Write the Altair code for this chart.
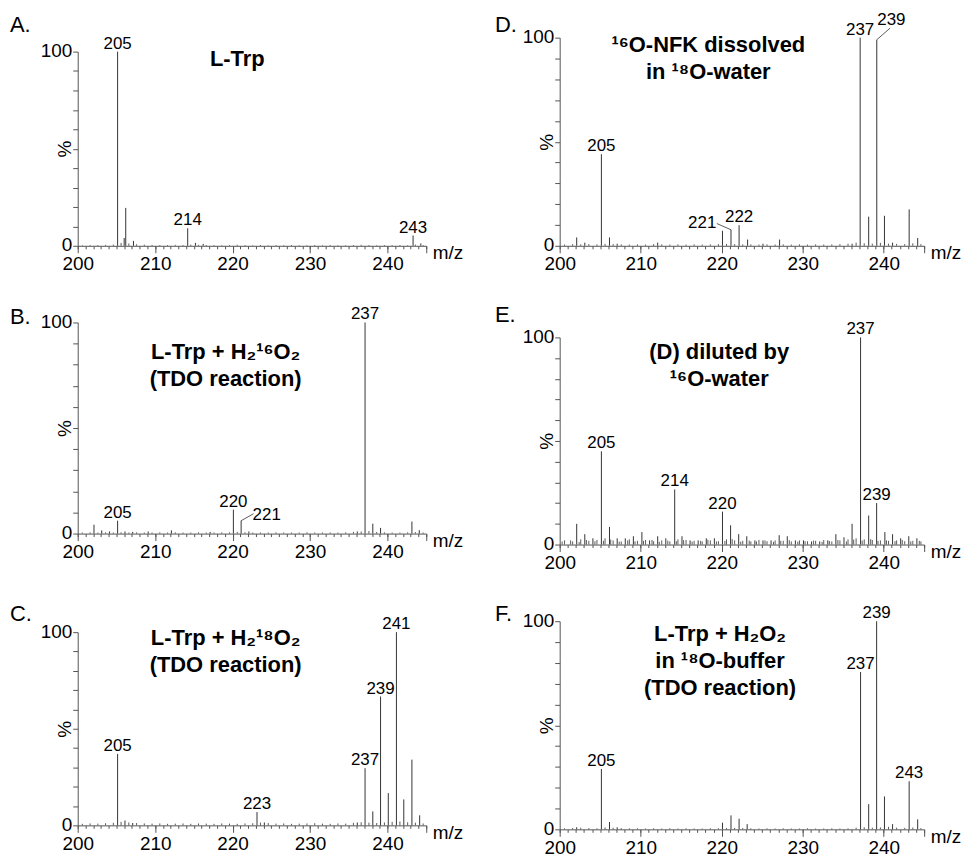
import altair as alt
import pandas as pd

FONT = "Liberation Sans"
LINE = "#333333"
AXC = "#555555"

X_MAJOR = [200, 210, 220, 230, 240, 245]
X_MINOR = [200, 201, 202, 203, 204, 205, 206, 207, 208, 209, 210, 211, 212, 213, 214,
           215, 216, 217, 218, 219, 220, 221, 222, 223, 224, 225, 226, 227, 228, 229,
           230, 231, 232, 233, 234, 235, 236, 237, 238, 239, 240, 241, 242, 243, 244, 245]
Y_TICKS = [0, 10, 20, 30, 40, 50, 60, 70, 80, 90, 100]

NOISE_MZ = [200.6, 201.6, 202.6, 203.6, 204.6, 205.6, 206.6, 207.6, 208.6, 209.6,
            210.6, 211.6, 212.6, 213.6, 214.6, 215.6, 216.6, 217.6, 218.6, 219.6,
            220.6, 221.6, 222.6, 223.6, 224.6, 225.6, 226.6, 227.6, 228.6, 229.6,
            230.6, 231.6, 232.6, 233.6, 234.6, 235.6, 236.6, 237.6, 238.6, 239.6,
            240.6, 241.6, 242.6, 243.6, 244.6]
NOISE_MZ2 = [200.3, 201.35, 202.4, 203.3, 204.35, 205.4, 206.3, 207.35, 208.4, 209.3,
             210.35, 211.4, 212.3, 213.35, 214.4, 215.3, 216.35, 217.4, 218.3, 219.35,
             220.4, 221.3, 222.35, 223.4, 224.3, 225.35, 226.4, 227.3, 228.35, 229.4,
             230.3, 231.35, 232.4, 233.3, 234.35, 235.4, 236.3, 237.35, 238.4, 239.3,
             240.35, 241.4, 242.3, 243.35, 244.4]

# ---------------- Panel A: L-Trp ----------------
A_mz = [205.15, 206.0, 206.2, 207.2, 214.2, 215.2, 216.2, 243.3, 244.3]
A_int = [100, 4, 19.5, 2.5, 9, 1.5, 1, 5.3, 1.2]
A_noise = [0.3, 0.4, 0.4, 0.5, 0.6, 1.5, 1.2, 0.8, 0.6, 0.5,
           0.4, 0.4, 0.5, 0.4, 0.6, 0.5, 0.4, 0.4, 0.3, 0.4,
           0.5, 0.4, 0.3, 0.4, 0.3, 0.4, 0.3, 0.4, 0.3, 0.3,
           0.4, 0.3, 0.4, 0.3, 0.3, 0.4, 0.5, 0.4, 0.3, 0.4,
           0.3, 0.4, 0.3, 0.6, 0.4]
A_lab = ["205", "214", "243"]
A_lab_x = [205.15, 214.2, 243.3]
A_lab_y = [100, 9, 5.3]

# ---------------- Panel B ----------------
B_mz = [202.1, 203.1, 204.1, 205.15, 206.1, 207.1, 209.1, 212.1, 217.1, 220.1, 221.1,
        222.1, 236.1, 237.1, 238.1, 239.1, 243.15, 244.1]
B_int = [4.2, 1.5, 1, 6.1, 1, 0.8, 1, 1.5, 0.8, 11.3, 6.1, 1, 1, 100, 4.7, 2.7, 5.7, 1.6]
B_noise = [0.5, 0.6, 0.5, 0.6, 0.5, 0.6, 0.5, 0.6, 0.5, 0.5,
           0.6, 0.5, 0.6, 0.5, 0.5, 0.6, 0.5, 0.5, 0.6, 0.6,
           0.8, 0.6, 0.5, 0.5, 0.5, 0.6, 0.5, 0.5, 0.5, 0.6,
           0.5, 0.5, 0.5, 0.5, 0.6, 0.8, 1.0, 1.2, 0.8, 0.6,
           0.5, 0.5, 0.6, 0.7, 0.5]
B_lab = ["205", "220", "221", "237"]
B_lab_x = [205.15, 220.1, 224.4, 237.1]
B_lab_y = [6.1, 11.3, 5.1, 100]
B_lead = [[221.1, 6.1, 222.7, 9.4]]

# ---------------- Panel C ----------------
C_mz = [205.15, 206.1, 207.1, 223.15, 224.1, 236.1, 237.1, 238.1, 239.1, 240.1, 241.15,
        242.1, 243.15, 244.15]
C_int = [37, 2.5, 1.2, 6.9, 1.5, 1.5, 29.6, 7.2, 66.7, 16.7, 100, 13.4, 34, 5.2]
C_noise = [0.8, 1.0, 0.9, 1.1, 1.3, 1.8, 1.5, 1.2, 1.0, 0.9,
           1.0, 0.8, 0.9, 1.0, 0.8, 1.0, 0.9, 0.8, 1.0, 0.9,
           0.8, 1.0, 1.1, 1.4, 1.2, 0.9, 1.0, 0.8, 0.9, 1.0,
           1.1, 0.9, 0.8, 1.0, 0.9, 1.3, 1.6, 1.4, 1.2, 1.5,
           1.8, 2.0, 1.6, 1.4, 1.0]
C_lab = ["205", "223", "237", "239", "241"]
C_lab_x = [205.15, 223.15, 237.1, 239.1, 241.15]
C_lab_y = [37, 6.9, 29.6, 66.7, 100]

# ---------------- Panel D ----------------
D_mz = [202.1, 203.1, 205.15, 206.15, 207.1, 212.1, 220.1, 221.15, 222.15, 223.2, 225.1,
        227.15, 236.1, 237.1, 238.15, 239.15, 240.1, 241.1, 243.15, 244.2]
D_int = [4, 1.5, 44, 4, 1, 1.5, 7.2, 7.7, 9.9, 3, 1, 3, 1, 100, 14, 99, 14.4, 1.5, 17.5, 3.7]
D_noise = [0.6, 0.8, 0.7, 0.8, 0.7, 0.9, 0.8, 0.7, 0.6, 0.7,
           0.6, 0.8, 0.7, 0.6, 0.7, 0.6, 0.7, 0.6, 0.7, 0.8,
           0.9, 0.8, 0.7, 0.7, 0.6, 0.7, 0.6, 0.7, 0.6, 0.7,
           0.6, 0.7, 0.6, 0.7, 0.8, 1.0, 1.5, 1.2, 1.0, 1.4,
           1.0, 0.9, 0.8, 1.2, 0.8]
D_lab = ["205", "221", "222", "237", "239"]
D_lab_x = [205.15, 217.6, 222.15, 237.1, 240.95]
D_lab_y = [44, 7.2, 9.9, 100, 104.6]
D_lead = [[221.15, 7.7, 219.4, 10.7], [239.15, 99, 240.8, 104.6]]

# ---------------- Panel E ----------------
E_mz = [202.1, 203.1, 204.1, 205.15, 206.15, 207.1, 208.1, 209.1, 210.15, 211.1, 212.1,
        213.1, 214.2, 215.1, 216.1, 217.1, 218.1, 219.1, 220.1, 221.1, 222.1, 223.1,
        224.1, 225.1, 226.1, 227.1, 228.1, 229.1, 230.1, 231.1, 232.1, 233.1, 234.1,
        235.1, 236.1, 237.15, 238.15, 239.13, 240.15, 241.1, 242.1, 243.1, 244.1]
E_int = [10, 5, 3, 45, 8.5, 3, 3, 4, 6, 2, 4,
         3, 26.6, 4, 2, 2, 3, 3, 15.9, 9.3, 5, 4,
         2, 2, 2, 4.5, 4, 2, 2, 1.5, 1.5, 2, 5,
         3.5, 10, 100, 14, 20, 6, 5, 3, 4, 3]
E_noise = [2.0, 1.5, 2.5, 1.8, 2.2, 3.0, 2.0, 1.5, 2.5, 1.8,
           2.2, 1.6, 2.0, 1.5, 2.5, 2.2, 1.8, 1.5, 2.0, 1.6,
           2.5, 2.0, 1.8, 1.5, 2.2, 1.6, 2.0, 1.8, 1.5, 2.0,
           1.6, 1.8, 2.2, 1.5, 2.0, 2.5, 3.0, 2.5, 2.2, 2.0,
           1.8, 2.0, 1.6, 1.8, 1.5]
E_noise2 = [1.5, 2.0, 1.2, 2.2, 1.6, 1.8, 2.4, 1.4, 2.0, 1.5,
            1.8, 2.2, 1.3, 1.9, 1.6, 2.1, 1.4, 1.8, 2.3, 1.5,
            1.7, 2.6, 1.4, 1.9, 1.5, 2.0, 1.3, 1.8, 2.1, 1.4,
            1.6, 1.9, 1.3, 1.7, 2.2, 1.5, 2.4, 1.9, 2.6, 1.8,
            2.0, 1.6, 2.2, 1.5, 1.8]
E_lab = ["205", "214", "220", "237", "239"]
E_lab_x = [205.15, 214.2, 220.1, 237.15, 239.13]
E_lab_y = [45, 26.6, 15.9, 100, 20]

# ---------------- Panel F ----------------
F_mz = [202.1, 205.15, 206.15, 207.1, 220.1, 221.15, 222.15, 223.15, 237.15, 238.15,
        239.13, 240.1, 241.1, 243.15, 244.2]
F_int = [1, 29, 3.5, 1, 3.2, 6.7, 5.1, 2.5, 75.6, 12.1, 100, 15.8, 2.5, 23.1, 4.8]
F_noise = [0.5, 0.6, 0.8, 0.6, 0.5, 0.9, 0.8, 0.6, 0.5, 0.5,
           0.4, 0.5, 0.4, 0.5, 0.4, 0.5, 0.4, 0.4, 0.5, 0.5,
           0.6, 0.7, 0.6, 0.5, 0.4, 0.5, 0.4, 0.5, 0.4, 0.4,
           0.5, 0.4, 0.4, 0.5, 0.4, 0.5, 0.8, 1.0, 0.8, 0.9,
           1.2, 0.8, 0.7, 0.9, 0.6]
F_lab = ["205", "237", "239", "243"]
F_lab_x = [205.15, 237.15, 239.13, 243.15]
F_lab_y = [29, 75.6, 100, 23.1]


def panel(letter, ldx, ldy, w, h, mz, inten, nmz, nint, lab, lab_x, lab_y, leads,
          title_lines, tx, ty):
    xs = alt.Scale(domain=[200, 245], nice=False, zero=False)
    ys = alt.Scale(domain=[0, 100], nice=False, zero=False)
    major = alt.Axis(values=X_MAJOR, orient="bottom", tickSize=7, labelFontSize=19,
                     labelPadding=2, grid=False, labelFlush=False,
                     labelExpr="datum.value == 245 ? '' : datum.label",
                     title="m/z", titleX=w + 6, titleY=13, titleAlign="left",
                     titleBaseline="alphabetic", titleFontSize=19, titleFontWeight="normal")
    minor = alt.Axis(values=X_MINOR, orient="bottom", tickSize=3, labels=False,
                     domain=False, grid=False, title=None)
    yaxis = alt.Axis(values=Y_TICKS, orient="left", tickSize=5, labelPadding=1,
                     labelFontSize=19, grid=False, labelOffset=-1,
                     labelExpr="datum.value == 0 || datum.value == 100 ? datum.label : ''",
                     title="%", titleX=-13, titleY=h / 2, titleAngle=270,
                     titleAlign="center", titleBaseline="middle", titleFontSize=19,
                     titleFontWeight="normal")

    noise_df = pd.DataFrame({"mz": nmz, "i": nint})
    peak_df = pd.DataFrame({"mz": mz, "i": inten})
    lab_df = pd.DataFrame({"t": lab, "x": lab_x, "y": lab_y})

    layers = [
        alt.Chart(peak_df).mark_rule(color=LINE, strokeWidth=1).encode(
            x=alt.X("mz:Q", scale=xs, axis=major),
            y=alt.Y("i:Q", scale=ys, axis=yaxis),
            y2=alt.datum(0)),
        alt.Chart(noise_df).mark_rule(color=LINE, strokeWidth=0.8).encode(
            x=alt.X("mz:Q", scale=xs, axis=minor),
            y=alt.Y("i:Q", scale=ys, axis=None),
            y2=alt.datum(0)),
        alt.Chart(lab_df).mark_text(fontSize=17, baseline="alphabetic", dy=-3,
                                    color="#000").encode(
            x=alt.X("x:Q", scale=xs, axis=None),
            y=alt.Y("y:Q", scale=ys, axis=None),
            text="t:N"),
    ]
    if leads:
        lead_df = pd.DataFrame(leads, columns=["x1", "y1", "x2", "y2"])
        layers.append(alt.Chart(lead_df).mark_rule(color=LINE, strokeWidth=0.8).encode(
            x=alt.X("x1:Q", scale=xs, axis=None),
            y=alt.Y("y1:Q", scale=ys, axis=None),
            x2="x2:Q", y2="y2:Q"))
    title_df = pd.DataFrame({"x": [tx], "y": [ty]})
    layers.append(alt.Chart(title_df).mark_text(
        text=title_lines, fontSize=22, fontWeight="bold", lineHeight=27,
        align="center", baseline="alphabetic", color="#000").encode(
        x=alt.X("x:Q", scale=xs, axis=None),
        y=alt.Y("y:Q", scale=ys, axis=None)))
    letter_df = pd.DataFrame({"t": [letter]})
    layers.append(alt.Chart(letter_df).mark_text(
        fontSize=22, align="left", baseline="alphabetic", color="#000").encode(
        x=alt.value(ldx), y=alt.value(ldy), text="t:N"))
    return alt.layer(*layers).resolve_axis(x="independent", y="independent").properties(
        width=w, height=h)


def spacer(w, h):
    return alt.Chart(pd.DataFrame({"v": [0]})).mark_point(opacity=0, size=1).encode(
        x=alt.X("v:Q", axis=None), y=alt.Y("v:Q", axis=None)
    ).properties(width=w, height=h)


pA = panel("A.", -68, -20, 350, 195, A_mz, A_int, NOISE_MZ, A_noise,
           A_lab, A_lab_x, A_lab_y, [], ["L-Trp"], 220.6, 92.5)
pB = panel("B.", -68, 2, 350, 212, B_mz, B_int, NOISE_MZ, B_noise,
           B_lab, B_lab_x, B_lab_y, B_lead,
           ["L-Trp + H\u2082\u00b9\u2076O\u2082", "(TDO reaction)"], 219.1, 82.7)
pC = panel("C.", -68, -11, 350, 194, C_mz, C_int, NOISE_MZ, C_noise,
           C_lab, C_lab_x, C_lab_y, [],
           ["L-Trp + H\u2082\u00b9\u2078O\u2082", "(TDO reaction)"], 219.1, 93.1)
pD = panel("D.", -65, -6, 366, 209, D_mz, D_int, NOISE_MZ, D_noise,
           D_lab, D_lab_x, D_lab_y, D_lead,
           ["\u00b9\u2076O-NFK dissolved", "in \u00b9\u2078O-water"], 218.35, 93.2)
pE = panel("E.", -65, -15, 366, 208, E_mz, E_int, NOISE_MZ + NOISE_MZ2, E_noise + E_noise2,
           E_lab, E_lab_x, E_lab_y, [],
           ["(D) diluted by", "\u00b9\u2076O-water"], 219.7, 89.6)
pF = panel("F.", -65, 0, 366, 209, F_mz, F_int, NOISE_MZ, F_noise,
           F_lab, F_lab_x, F_lab_y, [],
           ["L-Trp + H\u2082O\u2082", "in \u00b9\u2078O-buffer", "(TDO reaction)"], 219.8, 90.4)

left = alt.vconcat(spacer(350, 14), pA, spacer(350, 77), pB, spacer(350, 99), pC,
                   spacing=0, bounds="flush")
right = alt.vconcat(pD, spacer(366, 92), pE, spacer(366, 77), pF,
                    spacing=0, bounds="flush")

chart = alt.hconcat(left, right, spacing=32).properties(
    padding={"left": 2, "right": 0, "top": 1, "bottom": 0}
).configure(background="white").configure_view(
    strokeWidth=0, stroke="transparent"
).configure_axis(
    labelFont=FONT, titleFont=FONT, domainColor=AXC, tickColor=AXC,
    labelColor="#000", titleColor="#000", domainWidth=1, tickWidth=1
).configure_text(font=FONT)

chart.save("out.html", embed_options={"renderer": "svg", "actions": False})
